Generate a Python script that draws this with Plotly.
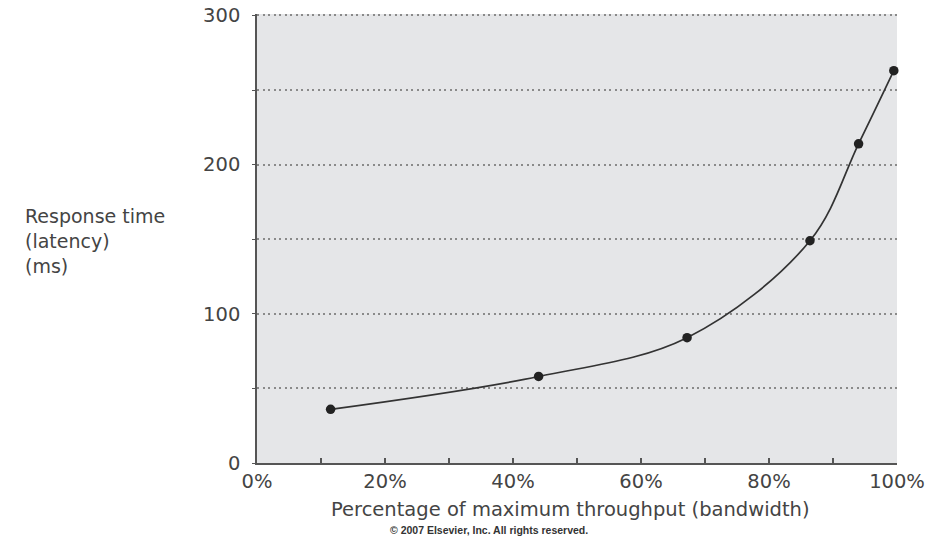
import plotly.graph_objects as go

throughput_pct = [11.5, 44, 67.2, 86.4, 94, 99.5]
latency_ms = [36, 58, 84, 149, 214, 263]
x_tick_vals = [0, 20, 40, 60, 80, 100]
x_tick_text = ["0%", "20%", "40%", "60%", "80%", "100%"]
y_tick_vals = [0, 100, 200, 300]
y_title_lines = ["Response time", "(latency)", "(ms)"]

FONT = "DejaVu Sans"
TXT = "#444444"
AXIS = "#555555"
FS = 19.5

fig = go.Figure()
fig.add_trace(go.Scatter(
    x=throughput_pct, y=latency_ms, mode="lines+markers",
    line=dict(color="#333333", width=1.7, shape="spline", smoothing=1.0),
    marker=dict(color="#222222", size=9.5),
    cliponaxis=False, showlegend=False, hoverinfo="skip",
))

fig.update_layout(
    width=944, height=536,
    margin=dict(l=257, r=47, t=14, b=73),
    paper_bgcolor="white", plot_bgcolor="#e5e6e8",
    font=dict(family=FONT, size=FS, color=TXT),
    xaxis=dict(
        range=[0, 100], tickvals=x_tick_vals, ticktext=x_tick_text,
        ticks="inside", ticklen=5, tickwidth=1.5, tickcolor=AXIS,
        minor=dict(dtick=10, tick0=0, ticks="inside", ticklen=5, tickwidth=1.5, tickcolor=AXIS, showgrid=False),
        showgrid=False, zeroline=False,
        showline=True, linecolor=AXIS, linewidth=1.5,
        tickfont=dict(family=FONT, size=FS, color=TXT),
        automargin=False, fixedrange=True,
    ),
    yaxis=dict(
        range=[0, 301], tickvals=y_tick_vals,
        ticks="outside", ticklen=3, tickwidth=1.2, tickcolor=AXIS,
        minor=dict(dtick=50, tick0=0, ticks="outside", ticklen=3, tickwidth=1.2, tickcolor=AXIS,
                   showgrid=True, gridcolor="#8a8a8a", gridwidth=1.5, griddash="2px,3.5px"),
        showgrid=True, gridcolor="#8a8a8a", gridwidth=1.5, griddash="2px,3.5px",
        zeroline=False,
        showline=True, linecolor=AXIS, linewidth=1.5,
        tickfont=dict(family=FONT, size=FS, color=TXT),
        ticklabelstandoff=8,
        automargin=False, fixedrange=True,
    ),
)

# y-axis title, left-aligned block of three lines
line_px = [217, 241.5, 266]
for txt, py in zip(y_title_lines, line_px):
    fig.add_annotation(
        text=txt, xref="paper", yref="paper",
        x=(23 - 257) / 640, y=(463 - py) / 448, xanchor="left", yanchor="middle",
        showarrow=False, font=dict(family=FONT, size=19, color=TXT),
    )
fig.add_annotation(
    text="Percentage of maximum throughput (bandwidth)", xref="paper", yref="paper",
    x=(570 - 257) / 640, y=(463 - 509) / 448, xanchor="center", yanchor="middle",
    showarrow=False, font=dict(family=FONT, size=FS, color=TXT),
)
fig.add_annotation(
    text="<b>© 2007 Elsevier, Inc. All rights reserved.</b>", xref="paper", yref="paper",
    x=(489 - 257) / 640, y=(463 - 530) / 448, xanchor="center", yanchor="middle",
    showarrow=False, font=dict(family="Liberation Sans", size=10.5, color="#333333"),
)

fig.write_html("out.html", config={"displayModeBar": False},
               post_script="document.body.style.margin='0';")
